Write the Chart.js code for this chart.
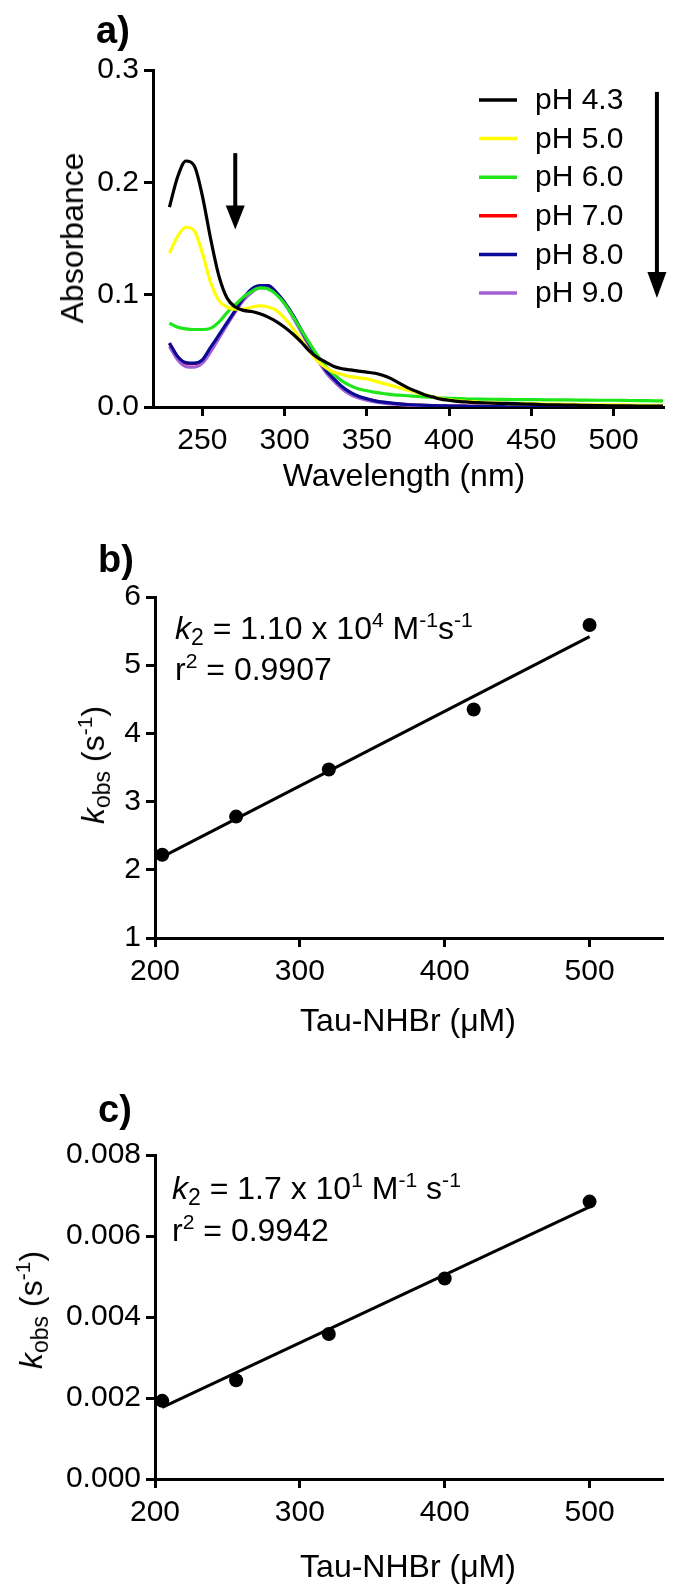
<!DOCTYPE html>
<html><head><meta charset="utf-8">
<script src="https://cdn.jsdelivr.net/npm/chart.js@4.4.0/dist/chart.umd.min.js"></script>
<style>
html,body{margin:0;padding:0;background:#fff;}
#wrap{position:relative;width:682px;height:1586px;overflow:hidden;font-family:'Liberation Sans',Arial,sans-serif;color:#000;}
canvas{position:absolute;left:0;}
.t{position:absolute;white-space:nowrap;line-height:1;}
.c{transform:translateX(-50%);}
.rot{transform:translate(-50%,-50%) rotate(-90deg);}
.sub{font-size:0.72em;vertical-align:-0.28em;}
.sup{font-size:0.66em;vertical-align:0.55em;}
.lbl{font-weight:bold;font-size:38px;}
</style></head>
<body><div id="wrap">
<canvas id="ca" width="682" height="500" style="top:0"></canvas>
<canvas id="cb" width="682" height="500" style="top:500px"></canvas>
<canvas id="cc" width="682" height="586" style="top:1000px"></canvas>

<div class="t lbl" style="left:96px;top:11px;">a)</div>
<div class="t lbl" style="left:98px;top:540px;">b)</div>
<div class="t lbl" style="left:98px;top:1090px;">c)</div>

<div class="t rot" style="left:72px;top:238px;font-size:32px;">Absorbance</div>
<div class="t c" style="left:404px;top:459px;font-size:32px;">Wavelength (nm)</div>

<div class="t rot" style="left:94px;top:765px;font-size:32px;"><i>k</i><span class="sub">obs</span> (s<span class="sup">-1</span>)</div>
<div class="t c" style="left:408px;top:1004px;font-size:32px;">Tau-NHBr (μM)</div>
<div class="t" style="left:175px;top:609px;font-size:32px;"><i>k</i><span class="sub">2</span> = 1.10 x 10<span class="sup">4</span> M<span class="sup">-1</span>s<span class="sup">-1</span></div>
<div class="t" style="left:175px;top:650px;font-size:32px;">r<span class="sup">2</span> = 0.9907</div>

<div class="t rot" style="left:32px;top:1310px;font-size:32px;"><i>k</i><span class="sub">obs</span> (s<span class="sup">-1</span>)</div>
<div class="t c" style="left:408px;top:1550px;font-size:32px;">Tau-NHBr (μM)</div>
<div class="t" style="left:172px;top:1169px;font-size:32px;"><i>k</i><span class="sub">2</span> = 1.7 x 10<span class="sup">1</span> M<span class="sup">-1</span> s<span class="sup">-1</span></div>
<div class="t" style="left:172px;top:1211px;font-size:32px;">r<span class="sup">2</span> = 0.9942</div>
</div>
<script>
// ---------- Panel a data ----------
const wavelengthNm = [230,235,240,245,250,255,260,265,270,275,280,285,290,295,300,305,310,315,320,325,330,335,340,345,350,355,360,365,370,375,380,385,390,395,400,405,410,415,420,430,440,450,460,470,480,490,500,510,520,530];
const absPH43 = [0.178,0.205,0.219,0.215,0.188,0.150,0.117,0.097,0.089,0.086,0.085,0.083,0.080,0.076,0.071,0.065,0.058,0.050,0.044,0.040,0.036,0.034,0.033,0.032,0.031,0.030,0.028,0.025,0.021,0.017,0.014,0.011,0.009,0.007,0.006,0.005,0.0045,0.004,0.0038,0.0033,0.003,0.0025,0.002,0.0018,0.0015,0.0012,0.001,0.001,0.0008,0.0008];
const absPH50 = [0.137,0.152,0.160,0.157,0.137,0.111,0.095,0.089,0.087,0.087,0.089,0.090,0.089,0.086,0.079,0.070,0.060,0.050,0.041,0.035,0.031,0.029,0.027,0.026,0.025,0.023,0.021,0.019,0.017,0.015,0.013,0.011,0.009,0.0075,0.0065,0.0055,0.005,0.0045,0.004,0.0035,0.003,0.003,0.0025,0.0025,0.002,0.002,0.002,0.0018,0.0015,0.0015];
const absPH60 = [0.0745,0.071,0.0695,0.069,0.069,0.070,0.0755,0.084,0.091,0.098,0.103,0.106,0.105,0.100,0.092,0.081,0.069,0.057,0.046,0.036,0.029,0.023,0.019,0.016,0.0145,0.0130,0.0120,0.011,0.0105,0.010,0.0095,0.009,0.0085,0.008,0.0078,0.0075,0.0072,0.007,0.007,0.0068,0.0066,0.0065,0.0064,0.0063,0.0062,0.006,0.006,0.0058,0.0056,0.0055];
const absPH70 = [0.0565,0.0445,0.039,0.0385,0.0415,0.052,0.063,0.074,0.085,0.096,0.104,0.1075,0.1075,0.1015,0.0925,0.0815,0.0685,0.0555,0.0435,0.0325,0.0245,0.0175,0.0125,0.009,0.007,0.0053,0.0041,0.0033,0.0026,0.0021,0.0017,0.0014,0.0012,0.001,0.0009,0.0008,0.0007,0.0006,0.0006,0.0005,0.0004,0.0004,0.0003,0.0003,0.0003,0.0002,0.0002,0.0002,0.0002,0.0002];
const absPH80 = [0.057,0.045,0.0395,0.039,0.042,0.053,0.064,0.075,0.086,0.097,0.105,0.108,0.108,0.102,0.093,0.082,0.069,0.056,0.044,0.033,0.025,0.018,0.013,0.0095,0.0073,0.0055,0.0043,0.0035,0.0028,0.0022,0.0018,0.0015,0.0012,0.001,0.0009,0.0008,0.0007,0.0006,0.0006,0.0005,0.0004,0.0004,0.0003,0.0003,0.0003,0.0002,0.0002,0.0002,0.0002,0.0002];
const absPH90 = [0.054,0.042,0.036,0.0355,0.039,0.049,0.061,0.073,0.085,0.095,0.102,0.106,0.106,0.101,0.092,0.080,0.067,0.054,0.042,0.031,0.023,0.016,0.011,0.008,0.006,0.0045,0.0035,0.0027,0.0021,0.0017,0.0014,0.0011,0.001,0.0009,0.0008,0.0007,0.0006,0.0005,0.0005,0.0004,0.0004,0.0003,0.0003,0.0003,0.0002,0.0002,0.0002,0.0002,0.0002,0.0002];
const seriesLabels = ['pH 4.3','pH 5.0','pH 6.0','pH 7.0','pH 8.0','pH 9.0'];
const seriesColors = ['#000000','#ffff00','#1ee619','#ff0000','#0a0a96','#a45fd6'];
const drawOrder = [0,1,2,5,3,4]; // lower = drawn on top (red hidden under blue/purple)
const xTicksA = [250,300,350,400,450,500];
const yTicksA = [0,0.1,0.2,0.3];

// ---------- Panel b data ----------
const tauB = [205,256,320,420,500];
const kobsB = [2.22,2.78,3.47,4.35,5.59];
const fitBx = [205,500];
const fitBy = [2.19,5.42];
const xTicksBC = [200,300,400,500];
const yTicksB = [1,2,3,4,5,6];

// ---------- Panel c data ----------
const tauC = [205,256,320,400,500];
const kobsC = [0.00193,0.00244,0.00358,0.00495,0.00685];
const fitCx = [205,500];
const fitCy = [0.00177,0.00672];
const yTicksC = [0,0.002,0.004,0.006,0.008];

const FONT = "'Liberation Sans', Arial, sans-serif";
Chart.defaults.font.family = FONT;
Chart.defaults.font.size = 30;
Chart.defaults.color = '#000';
Chart.defaults.animation = false;

function axisCommon(extra){
  return Object.assign({
    type:'linear',
    grid:{drawOnChartArea:false, drawTicks:true, tickLength:9, color:'#000', lineWidth:3},
    border:{display:true, color:'#000', width:3},
  }, extra);
}
function fixTicks(list){ return s => { s.ticks = list.map(v=>({value:v})); }; }

function arrow(ctx, x, yTop, yTip, shaftW, headW, headL){
  ctx.fillStyle = '#000';
  ctx.fillRect(x - shaftW/2, yTop, shaftW, (yTip - headL) - yTop + 1);
  ctx.beginPath();
  ctx.moveTo(x - headW/2, yTip - headL);
  ctx.lineTo(x + headW/2, yTip - headL);
  ctx.lineTo(x, yTip);
  ctx.closePath(); ctx.fill();
}

const decorA = {
  id:'decorA',
  afterDraw(chart){
    const ctx = chart.ctx, xs = chart.scales.x, ys = chart.scales.y;
    ctx.save();
    chart.data.datasets.forEach((ds,i)=>{
      const y = 100 + i*38.6;
      ctx.strokeStyle = ds.borderColor; ctx.lineWidth = 3.5;
      ctx.beginPath(); ctx.moveTo(479,y); ctx.lineTo(517,y); ctx.stroke();
      ctx.fillStyle = '#000'; ctx.font = '30px ' + FONT; ctx.textBaseline = 'middle'; ctx.textAlign='left';
      ctx.fillText(ds.label, 535, y+1);
    });
    arrow(ctx, xs.getPixelForValue(270), ys.getPixelForValue(0.226), ys.getPixelForValue(0.158), 4, 19, 24);
    arrow(ctx, xs.getPixelForValue(526.3), ys.getPixelForValue(0.2805), ys.getPixelForValue(0.097), 4, 19, 26);
    ctx.restore();
  }
};

const dataA = [absPH43,absPH50,absPH60,absPH70,absPH80,absPH90];
new Chart(document.getElementById('ca'), {
  type:'line',
  data:{
    labels: wavelengthNm,
    datasets: dataA.map((arr,i)=>({
      label: seriesLabels[i],
      data: arr.map((v,j)=>({x:wavelengthNm[j], y:v})),
      borderColor: seriesColors[i], backgroundColor: seriesColors[i],
      borderWidth: 3.2, pointRadius:0, tension:0.4, cubicInterpolationMode:'monotone', fill:false,
      order: drawOrder[i]
    }))
  },
  options:{
    responsive:false, maintainAspectRatio:false,
    layout:{padding:{left:0,right:19,top:70,bottom:0}},
    plugins:{legend:{display:false}, tooltip:{enabled:false}},
    scales:{
      x: axisCommon({min:220,max:530, afterBuildTicks:fixTicks(xTicksA),
        ticks:{padding:7, maxRotation:0, autoSkip:false, callback:v=>String(v)},
        afterFit:s=>{s.height=93;}}),
      y: axisCommon({min:0,max:0.3, afterBuildTicks:fixTicks(yTicksA),
        ticks:{padding:5, autoSkip:false, callback:v=>v.toFixed(1)},
        afterFit:s=>{s.width=153;}})
    }
  },
  plugins:[decorA]
});

function kineticChart(id, xs, ys, fx, fy, ymin, ymax, yTicks, fmt, topPad, bottomH){
  return new Chart(document.getElementById(id), {
    type:'scatter',
    data:{datasets:[
      {type:'line', data: fx.map((v,i)=>({x:v,y:fy[i]})), borderColor:'#000', borderWidth:3, pointRadius:0, fill:false},
      {type:'scatter', data: xs.map((v,i)=>({x:v,y:ys[i]})), backgroundColor:'#000', borderColor:'#000', pointRadius:7, pointBorderWidth:0}
    ]},
    options:{
      responsive:false, maintainAspectRatio:false,
      layout:{padding:{left:0,right:20,top:topPad,bottom:0}},
      plugins:{legend:{display:false}, tooltip:{enabled:false}},
      scales:{
        x: axisCommon({min:200,max:550, afterBuildTicks:fixTicks(xTicksBC),
          ticks:{padding:7, maxRotation:0, autoSkip:false, callback:v=>String(v)},
          afterFit:s=>{s.height=bottomH;}}),
        y: axisCommon({min:ymin,max:ymax, afterBuildTicks:fixTicks(yTicks),
          ticks:{padding:5, autoSkip:false, callback:fmt},
          afterFit:s=>{s.width=155;}})
      }
    }
  });
}
kineticChart('cb', tauB, kobsB, fitBx, fitBy, 1, 6, yTicksB, v=>String(v), 97, 62);
kineticChart('cc', tauC, kobsC, fitCx, fitCy, 0, 0.008, yTicksC, v=>v.toFixed(3), 155, 107);
</script>
</body></html>
